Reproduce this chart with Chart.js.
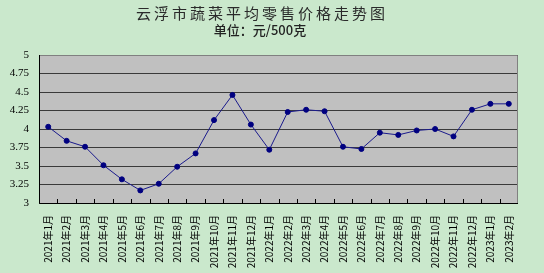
<!DOCTYPE html>
<html>
<head>
<meta charset="utf-8">
<script src="https://cdn.jsdelivr.net/npm/chart.js@4"></script>
<style>
  html, body { margin: 0; padding: 0; background: #cae8cc; }
  #wrap { width: 544px; height: 273px; }
</style>
</head>
<body>
<div id="wrap"><canvas id="priceChart"></canvas></div>
<script>
// Chart data
const chartTitle = '云浮市蔬菜平均零售价格走势图';
const chartSubtitle = '单位：元/500克';
const months = [
    '2021年1月', '2021年2月', '2021年3月', '2021年4月', '2021年5月', '2021年6月',
    '2021年7月', '2021年8月', '2021年9月', '2021年10月', '2021年11月', '2021年12月',
    '2022年1月', '2022年2月', '2022年3月', '2022年4月', '2022年5月', '2022年6月',
    '2022年7月', '2022年8月', '2022年9月', '2022年10月', '2022年11月', '2022年12月',
    '2023年1月', '2023年2月'
];
const prices = [
    4.03, 3.84, 3.76, 3.51, 3.32, 3.17, 3.26, 3.49, 3.67, 4.12, 4.46, 4.06,
    3.72, 4.23, 4.26, 4.24, 3.76, 3.73, 3.95, 3.92, 3.98, 4.00, 3.90, 4.26,
    4.34, 4.34
];
const yMin = 3;
const yMax = 5;
const yStep = 0.25;

// Plot background, border and inner x ticks
const plotFrame = {
    id: 'plotFrame',
    beforeDraw(chart) {
        const { ctx, chartArea: a } = chart;
        ctx.save();
        ctx.fillStyle = '#c0c0c0';
        ctx.fillRect(a.left, a.top, a.right - a.left, a.bottom - a.top);
        ctx.restore();
    },
    afterDatasetsDraw(chart) {
        const { ctx, chartArea: a } = chart;
        const x = chart.scales.x;
        ctx.save();
        ctx.lineWidth = 1;
        ctx.strokeStyle = '#808080';
        ctx.beginPath();
        ctx.moveTo(a.left, a.top + 0.5);
        ctx.lineTo(a.right - 0.5, a.top + 0.5);
        ctx.lineTo(a.right - 0.5, a.bottom);
        ctx.stroke();
        ctx.strokeStyle = '#000';
        ctx.beginPath();
        ctx.moveTo(a.left + 0.5, a.top);
        ctx.lineTo(a.left + 0.5, a.bottom + 0.5);
        ctx.lineTo(a.right, a.bottom + 0.5);
        const n = months.length;
        for (let i = 1; i < n; i++) {
            const px = Math.round(x.left + (x.right - x.left) * i / n) + 0.5;
            ctx.moveTo(px, a.bottom);
            ctx.lineTo(px, a.bottom - 4);
        }
        ctx.stroke();
        ctx.restore();
    },
    afterDraw(chart) {
        const { ctx } = chart;
        ctx.save();
        ctx.textAlign = 'center';
        ctx.textBaseline = 'middle';
        ctx.fillStyle = '#2a2a2a';
        ctx.font = '400 15px "Noto Sans CJK SC"';
        ctx.letterSpacing = '3px';
        ctx.fillText(chartTitle, 262, 13);
        ctx.letterSpacing = '0px';
        ctx.fillStyle = '#222';
        ctx.font = '500 13px "Noto Sans CJK SC"';
        ctx.fillText(chartSubtitle, 260, 30);
        ctx.restore();
    }
};

new Chart(document.getElementById('priceChart'), {
    type: 'line',
    data: {
        labels: months,
        datasets: [{
            data: prices,
            borderColor: '#1a1a8c',
            borderWidth: 1,
            backgroundColor: '#000080',
            pointBackgroundColor: '#000080',
            pointBorderColor: '#000080',
            pointRadius: 2.5,
            pointBorderWidth: 1,
            tension: 0,
            fill: false
        }]
    },
    options: {
        responsive: true,
        maintainAspectRatio: false,
        animation: false,
        layout: {
            padding: { top: 55, right: 26, left: 0, bottom: 0 }
        },
        plugins: {
            legend: { display: false },
            tooltip: { enabled: false }
        },
        scales: {
            x: {
                offset: true,
                grid: { display: false },
                border: { display: false },
                ticks: {
                    autoSkip: false,
                    minRotation: 90,
                    maxRotation: 90,
                    padding: 4,
                    color: '#000',
                    font: { family: '"Noto Sans CJK SC"', size: 10 }
                },
                afterFit(scale) { scale.height = 70; }
            },
            y: {
                min: yMin,
                max: yMax,
                grid: {
                    color: '#3a3a3a',
                    lineWidth: 1,
                    drawTicks: false
                },
                border: { display: false },
                ticks: {
                    stepSize: yStep,
                    padding: 10,
                    color: '#000',
                    font: { family: '"Liberation Serif"', size: 11 },
                    callback: (value) => String(Number(value.toFixed(2)))
                },
                afterFit(scale) { scale.width = 39; }
            }
        }
    },
    plugins: [plotFrame]
});
</script>
</body>
</html>
